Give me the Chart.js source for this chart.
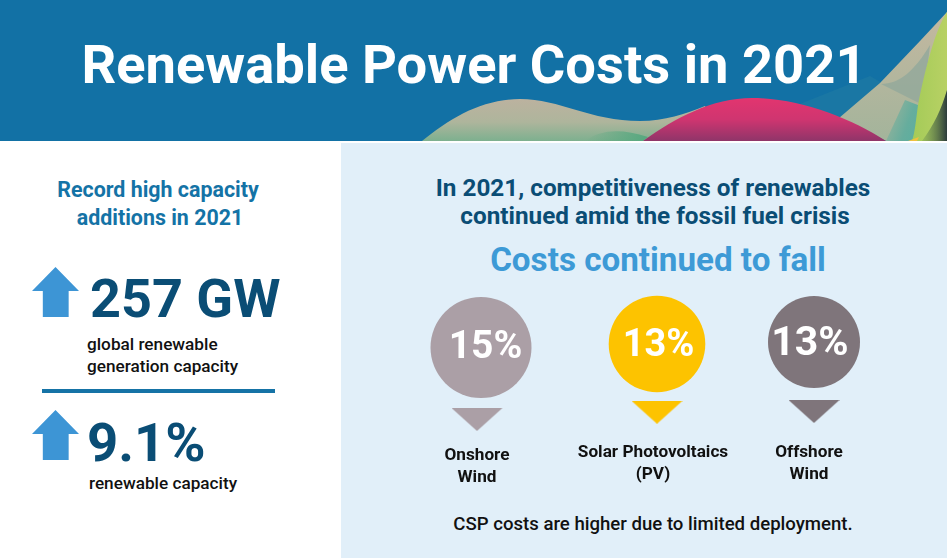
<!DOCTYPE html>
<html>
<head>
<meta charset="utf-8">
<title>Renewable Power Costs in 2021</title>
<script src="https://cdn.jsdelivr.net/npm/chart.js@4"></script>
<style>
html, body { margin: 0; padding: 0; background: #fff; }
#page { position: relative; width: 947px; height: 558px; overflow: hidden; font-family: Roboto, sans-serif; background: #fff; }
#header { position: absolute; left: 0; top: 0; width: 947px; height: 141px; background: #1271a5; }
#waves { position: absolute; left: 0; top: 0; }
#panel { position: absolute; left: 341px; top: 143px; width: 606px; height: 415px; background: #e1eff9; }
.t { position: absolute; white-space: nowrap; }
.c { transform: translateX(-50%); text-align: center; }
.nudge { position: relative; left: 2px; }
#title { left: 474px; top: 34px; font-size: 54.3px; line-height: 62px; font-weight: 700; color: #fff; }
#leftHead { left: 158px; top: 176px; font-size: 21.4px; line-height: 28px; font-weight: 700; color: #1473a6; }
.kpi { font-weight: 700; color: #0a4d75; }
#kpi0 { left: 90px; top: 267px; font-size: 54px; line-height: 64px; }
#kpi1 { left: 87px; top: 410px; font-size: 54.5px; line-height: 64px; }
.note { font-size: 17.2px; line-height: 22px; font-weight: 500; color: #111; }
#note0 { left: 87px; top: 333px; }
#note1 { left: 89px; top: 472px; }
#divider { position: absolute; left: 42px; top: 389px; width: 233px; height: 4px; background: #1573a6; }
.arrow { position: absolute; left: 32px; width: 47px; height: 50px; background: #3d95d5;
  clip-path: polygon(50% 0, 100% 48%, 78% 48%, 78% 100%, 23% 100%, 23% 48%, 0 48%); }
#rightHead { left: 653px; top: 174px; font-size: 24.3px; line-height: 28px; font-weight: 700; color: #0a4d75; }
#subHead { left: 658px; top: 240px; font-size: 33.2px; line-height: 40px; font-weight: 700; color: #3d9ad6; }
#footNote { left: 653px; top: 513px; font-size: 18.6px; line-height: 22px; font-weight: 500; color: #111; }
canvas.pin { position: absolute; top: 280px; }
</style>
</head>
<body>
<div id="page">
  <div id="header">
    <svg id="waves" width="947" height="141" viewBox="0 0 947 141">
      <defs>
        <linearGradient id="sand" x1="0" y1="0" x2="0" y2="1">
          <stop offset="0" stop-color="#bcb29f"/><stop offset="0.55" stop-color="#aeb59c"/><stop offset="1" stop-color="#7db08f"/>
        </linearGradient>
        <linearGradient id="pink" x1="0" y1="0" x2="0" y2="1">
          <stop offset="0" stop-color="#e2356f"/><stop offset="0.5" stop-color="#cf3570"/><stop offset="1" stop-color="#8f3569"/>
        </linearGradient>
        <linearGradient id="ridge" x1="0" y1="0" x2="0" y2="1">
          <stop offset="0" stop-color="#c4b8a0"/><stop offset="1" stop-color="#a3b49b"/>
        </linearGradient>
        <linearGradient id="teal" x1="0" y1="0" x2="1" y2="0.4">
          <stop offset="0" stop-color="#a3b49b"/><stop offset="0.7" stop-color="#66ad9d"/><stop offset="1" stop-color="#5dae9f"/>
        </linearGradient>
        <linearGradient id="leaf" x1="0" y1="0" x2="1" y2="0">
          <stop offset="0" stop-color="#a4cb58"/><stop offset="1" stop-color="#b8d164"/>
        </linearGradient>
        <linearGradient id="shade" x1="0" y1="0" x2="1" y2="0">
          <stop offset="0" stop-color="#6b9150" stop-opacity="0.3"/><stop offset="1" stop-color="#2c3c3c"/>
        </linearGradient>
        <linearGradient id="grass" x1="0" y1="0" x2="1" y2="0">
          <stop offset="0" stop-color="#55a87f" stop-opacity="0"/><stop offset="1" stop-color="#55a87f"/>
        </linearGradient>
      </defs>
      <path d="M800 104 L870 76 L882 83 L839 118 Z" fill="#3a8f9f" opacity="0.2"/>
      <path d="M422 141 C450 118 482 99 520 99 C560 99 590 121 640 121 C665 121 685 114 705 106 L720 141 Z" fill="url(#sand)"/>
      <path d="M585 141 C600 130 620 128 648 137 L643 141 Z" fill="url(#grass)"/>
      <path d="M839 118 L880 83 L920 41 L947 12 L947 141 L886 141 Z" fill="url(#ridge)"/>
      <path d="M881 84 C900 84 915 70 930 45 L923 105 Z" fill="#94a99b" opacity="0.85"/>
      <path d="M905 100 L923 107 L915 141 L886 141 Z" fill="url(#teal)"/>
      <path d="M643 141 C675 118 712 98 752 98 C800 98 850 118 886 141 Z" fill="url(#pink)"/>
      <path d="M947 12 C935 30 925 70 918 105 C916 120 915 132 912 141 L947 141 Z" fill="url(#leaf)"/>
      <path d="M922 141 C934 125 941 110 947 90 L947 141 Z" fill="url(#shade)"/>
      <path d="M908 141 L919 137 L917 141 Z" fill="#f0c040"/>
    </svg>
    <div id="title" class="t c">Renewable Power Costs in 2021</div>
  </div>
  <div id="panel"></div>

  <div id="leftHead" class="t c">Record high capacity<br><span class="nudge">additions in 2021</span></div>
  <div class="arrow" style="top:267px"></div>
  <div id="kpi0" class="t kpi"></div>
  <div id="note0" class="t note">global renewable<br>generation capacity</div>
  <div id="divider"></div>
  <div class="arrow" style="top:410px"></div>
  <div id="kpi1" class="t kpi"></div>
  <div id="note1" class="t note">renewable capacity</div>

  <div id="rightHead" class="t c">In 2021, competitiveness of renewables<br><span class="nudge">continued amid the fossil fuel crisis</span></div>
  <div id="subHead" class="t c">Costs continued to fall</div>
  <canvas id="pin0" class="pin" style="left:331px"></canvas>
  <canvas id="pin1" class="pin" style="left:507px"></canvas>
  <canvas id="pin2" class="pin" style="left:664px"></canvas>
  <div id="footNote" class="t c">CSP costs are higher due to limited deployment.</div>
</div>

<script>
// Values.
var technologies = [["Onshore", "Wind"], ["Solar Photovoltaics", "(PV)"], ["Offshore", "Wind"]];
var costDeclines = [15, 13, 13];
var headlineValues = ["257 GW", "9.1%"];

// Look of each pin, kept apart from the data.
var pinColors = ["#ab9fa6", "#fdc300", "#7f757b"];
var pinRadius = [50.5, 48.3, 46];
var pinTopPad = [67.5, 64, 62];
var axisHeight = [70.5, 77.7, 78.5];
var tickPadding = [25, 29, 30];
var labelShift = [-4, -4, -5];
var pointerShift = [-4, 0, 0];
var valueFont = [39, 38, 41];
var valueShift = [[4.5, 0.5], [1.5, 2], [-4, 2.5]];

headlineValues.forEach(function (v, i) {
    document.getElementById("kpi" + i).textContent = v;
});

// Flat downward triangle used as the point style of the pin's tip.
function makePointer(color, shift) {
    var w = 51, h = 23;
    var c = document.createElement("canvas");
    c.width = w + Math.abs(shift) * 2;
    c.height = h;
    var ctx = c.getContext("2d");
    var mid = c.width / 2 + shift;
    ctx.fillStyle = color;
    ctx.beginPath();
    ctx.moveTo(mid - w / 2, 0);
    ctx.lineTo(mid + w / 2, 0);
    ctx.lineTo(mid, h);
    ctx.closePath();
    ctx.fill();
    return c;
}

// Writes the percentage in the middle of the circle.
var valueLabel = {
    id: "valueLabel",
    afterDatasetsDraw: function (chart, args, opts) {
        var pt = chart.getDatasetMeta(0).data[0];
        var ctx = chart.ctx;
        ctx.save();
        ctx.fillStyle = "#fff";
        ctx.font = "700 " + opts.size + "px Roboto";
        ctx.textAlign = "center";
        ctx.textBaseline = "middle";
        ctx.fillText(chart.data.datasets[0].data[0] + "%", pt.x + opts.dx, pt.y + opts.dy);
        ctx.restore();
    },
};

function makePin(i) {
    var canvas = document.getElementById("pin" + i);
    canvas.width = 300;
    canvas.height = 210;
    new Chart(canvas, {
        type: "line",
        data: {
            labels: [technologies[i]],
            datasets: [
                {
                    data: [costDeclines[i]],
                    showLine: false,
                    clip: false,
                    pointRadius: pinRadius[i],
                    pointBorderWidth: 0,
                    pointBackgroundColor: pinColors[i],
                },
                {
                    data: [0],
                    showLine: false,
                    clip: false,
                    pointRadius: 12,
                    pointBorderWidth: 0,
                    pointStyle: makePointer(pinColors[i], pointerShift[i]),
                },
            ],
        },
        options: {
            responsive: false,
            animation: false,
            events: [],
            layout: { padding: { top: pinTopPad[i] } },
            plugins: {
                legend: { display: false },
                tooltip: { enabled: false },
                valueLabel: { size: valueFont[i], dx: valueShift[i][0], dy: valueShift[i][1] },
            },
            scales: {
                x: {
                    type: "category",
                    offset: true,
                    // The layout caps an axis at half the free height; this one sits lower.
                    afterFit: function (scale) {
                        scale.height = axisHeight[i];
                    },
                    grid: { display: false, drawTicks: false },
                    border: { display: false },
                    ticks: {
                        padding: tickPadding[i],
                        labelOffset: labelShift[i],
                        maxRotation: 0,
                        autoSkip: false,
                        color: "#111",
                        font: { family: "Roboto", size: 17.2, weight: "700", lineHeight: 1.28 },
                    },
                },
                y: { display: false, min: 0, max: costDeclines[i] },
            },
        },
        plugins: [valueLabel],
    });
}

document.fonts.load("700 38px Roboto").then(function () {
    technologies.forEach(function (t, i) {
        makePin(i);
    });
});
</script>
</body>
</html>
